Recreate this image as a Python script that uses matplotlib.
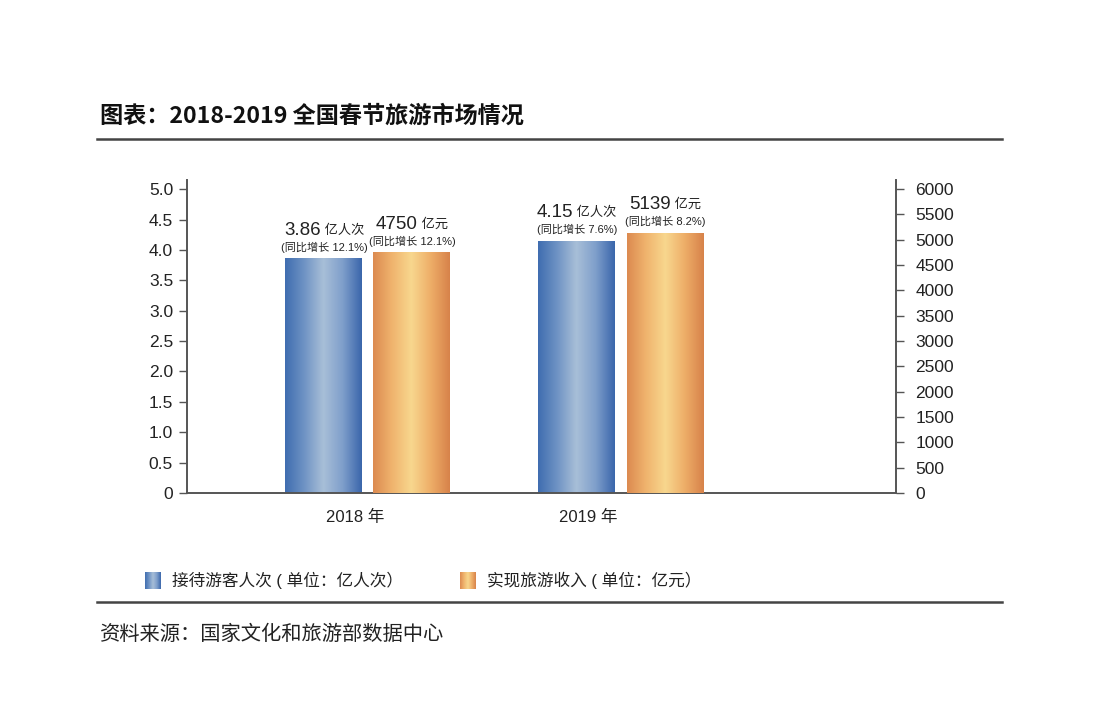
import numpy as np
import matplotlib
matplotlib.use("Agg")
import matplotlib.pyplot as plt
from matplotlib.colors import LinearSegmentedColormap

plt.rcParams['font.family'] = ['Liberation Sans', 'Noto Sans CJK SC', 'DejaVu Sans']

# ---- data ----
years = ["2018 年", "2019 年"]
visitors = [3.86, 4.15]          # 亿人次
revenue = [4750, 5139]           # 亿元
visitor_growth = ["12.1%", "7.6%"]
revenue_growth = ["12.1%", "8.2%"]
left_ticks = [0, 0.5, 1.0, 1.5, 2.0, 2.5, 3.0, 3.5, 4.0, 4.5, 5.0]
left_tick_labels = ["0", "0.5", "1.0", "1.5", "2.0", "2.5", "3.0", "3.5", "4.0", "4.5", "5.0"]
right_ticks = [0, 500, 1000, 1500, 2000, 2500, 3000, 3500, 4000, 4500, 5000, 5500, 6000]
title = "图表：2018-2019 全国春节旅游市场情况"
legend_labels = ["接待游客人次 ( 单位：亿人次）", "实现旅游收入 ( 单位：亿元）"]
source = "资料来源：国家文化和旅游部数据中心"

W, H = 1096, 725
fig = plt.figure(figsize=(W / 100, H / 100), dpi=100)
fig.patch.set_facecolor("white")

def fx(px):
    return px / W

def fy(py):
    return 1 - py / H

ax = fig.add_axes([fx(187), fy(493), fx(896) - fx(187), fy(180) - fy(493)])
ax2 = ax.twinx()

blue_cmap = LinearSegmentedColormap.from_list(
    "b", ["#3f6db0", "#6f93c4", "#a8bfd8", "#7f9fcb", "#3a66ab"])
orange_cmap = LinearSegmentedColormap.from_list(
    "o", ["#dc8a50", "#f0b46e", "#f8d78e", "#eeae68", "#d7824a"])

x = np.arange(len(years))
bw = 0.304
off = 0.174

grad = np.linspace(0, 1, 256).reshape(1, -1)

def grad_bar(a, xc, h, cmap):
    bars = a.bar(xc, h, width=bw, color="none", edgecolor="none", zorder=2)
    for b in bars:
        x0, y0 = b.get_x(), b.get_y()
        w, hh = b.get_width(), b.get_height()
        im = a.imshow(grad, cmap=cmap, aspect="auto",
                      extent=[x0, x0 + w, y0, y0 + hh], zorder=2,
                      interpolation="bicubic")
        im.set_clip_path(b)
    return bars

grad_bar(ax, x - off, visitors, blue_cmap)
grad_bar(ax2, x + off, revenue, orange_cmap)
ax.set_xlim(-0.715, 2.087)
ax.set_ylim(0, 5.15)
ax2.set_ylim(0, 6180)

spine_c = "#555555"
for a in (ax, ax2):
    for s in a.spines.values():
        s.set_visible(False)
ax.spines["left"].set_visible(True)
ax.spines["bottom"].set_visible(True)
ax2.spines["right"].set_visible(True)
for s in (ax.spines["left"], ax.spines["bottom"], ax2.spines["right"]):
    s.set_color(spine_c)
    s.set_linewidth(1.4)

ax.set_yticks(left_ticks)
ax.set_yticklabels(left_tick_labels)
ax.tick_params(axis="y", direction="out", length=6, width=1.0, color=spine_c,
               labelsize=12.5, pad=4, labelcolor="#222222")
ax2.set_yticks(right_ticks)
ax2.tick_params(axis="y", direction="out", length=6, width=1.0, color=spine_c,
                labelsize=12.5, pad=8, labelcolor="#222222")
ax.set_xticks(x - np.array([0.05, 0.13]))
ax.set_xticklabels(years)
ax.tick_params(axis="x", length=0, labelsize=12, pad=12, labelcolor="#222222")

fig.canvas.draw()
renderer = fig.canvas.get_renderer()

def two_part_label(a, xc, top, num, unit, growth):
    a.annotate("(同比增长 " + growth + ")", (xc, top), xytext=(0, 4),
               textcoords="offset points", ha="center", va="bottom",
               fontsize=8, color="#222222")
    t1 = a.annotate(num, (xc, top), xytext=(0, 14), textcoords="offset points",
                    ha="left", va="bottom", fontsize=13.5, color="#222222")
    t2 = a.annotate(" " + unit, (xc, top), xytext=(0, 14), textcoords="offset points",
                    ha="left", va="bottom", fontsize=9.5, color="#222222")
    w1 = t1.get_window_extent(renderer).width
    w2 = t2.get_window_extent(renderer).width
    tot = (w1 + w2) * 72 / 100
    t1.set_position((-tot / 2, 14))
    t2.set_position((-tot / 2 + w1 * 72 / 100, 15.5))

for i in range(len(years)):
    two_part_label(ax, x[i] - off, visitors[i], f"{visitors[i]:.2f}", "亿人次", visitor_growth[i])
    two_part_label(ax2, x[i] + off, revenue[i], f"{revenue[i]}", "亿元", revenue_growth[i])

# title and rules
fig.text(fx(100), fy(116), title, fontsize=16.7, fontweight="bold", va="center",
         ha="left", color="#111111", family=["Noto Sans CJK SC"])
fig.add_artist(plt.Line2D([fx(97), fx(1002)], [fy(139), fy(139)], color="#444444", lw=1.8))
fig.add_artist(plt.Line2D([fx(97), fx(1002)], [fy(602), fy(602)], color="#444444", lw=1.8))

# legend
lg = [(145, legend_labels[0], blue_cmap), (460, legend_labels[1], orange_cmap)]
for px, lab, cm in lg:
    lax = fig.add_axes([fx(px), fy(589), fx(16), fy(572) - fy(589)])
    lax.imshow(grad, cmap=cm, aspect="auto", interpolation="bicubic")
    lax.set_axis_off()
    fig.text(fx(px + 27), fy(580), lab, fontsize=12, va="center", ha="left", color="#222222")

fig.text(fx(100), fy(634), source, fontsize=14.6, va="center", ha="left", color="#222222")

fig.savefig("out.png", dpi=100, facecolor="white")
